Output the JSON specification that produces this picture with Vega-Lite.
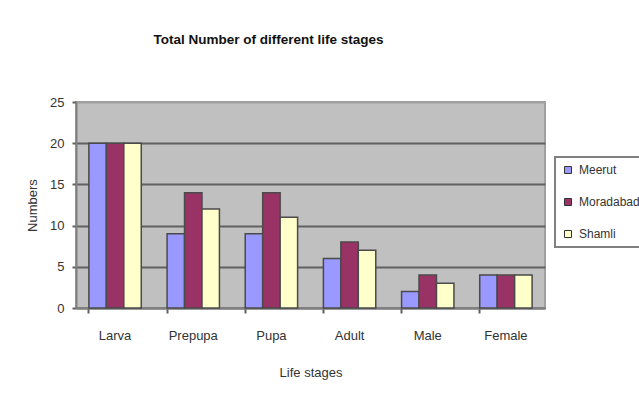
{
  "$schema": "https://vega.github.io/schema/vega-lite/v6.json",
  "width": 469,
  "height": 206,
  "autosize": {"type": "none"},
  "padding": {"left": 76, "top": 102, "right": 94, "bottom": 97},
  "background": "white",
  "title": {
    "text": "Total Number of different life stages",
    "font": "Liberation Sans",
    "fontSize": 13.5,
    "fontWeight": "bold",
    "color": "#111111",
    "offset": 50,
    "dx": -42
  },
  "config": {
    "view": {"fill": "#C0C0C0", "stroke": "#A0A0A0", "strokeWidth": 2},
    "axis": {
      "labelFont": "Liberation Sans",
      "titleFont": "Liberation Sans",
      "labelFontSize": 13,
      "titleFontSize": 13,
      "titleFontWeight": "normal",
      "labelColor": "#333333",
      "titleColor": "#333333",
      "domainColor": "#808080",
      "domainWidth": 2,
      "tickColor": "#606060",
      "tickWidth": 2
    },
    "legend": {"strokeColor": "#808080", "strokeWidth": 2, "fillColor": "white"}
  },
  "data": {
    "values": [
      {"stage": "Larva", "site": "Meerut", "count": 20},
      {"stage": "Larva", "site": "Moradabad", "count": 20},
      {"stage": "Larva", "site": "Shamli", "count": 20},
      {"stage": "Prepupa", "site": "Meerut", "count": 9},
      {"stage": "Prepupa", "site": "Moradabad", "count": 14},
      {"stage": "Prepupa", "site": "Shamli", "count": 12},
      {"stage": "Pupa", "site": "Meerut", "count": 9},
      {"stage": "Pupa", "site": "Moradabad", "count": 14},
      {"stage": "Pupa", "site": "Shamli", "count": 11},
      {"stage": "Adult", "site": "Meerut", "count": 6},
      {"stage": "Adult", "site": "Moradabad", "count": 8},
      {"stage": "Adult", "site": "Shamli", "count": 7},
      {"stage": "Male", "site": "Meerut", "count": 2},
      {"stage": "Male", "site": "Moradabad", "count": 4},
      {"stage": "Male", "site": "Shamli", "count": 3},
      {"stage": "Female", "site": "Meerut", "count": 4},
      {"stage": "Female", "site": "Moradabad", "count": 4},
      {"stage": "Female", "site": "Shamli", "count": 4}
    ]
  },
  "mark": {"type": "bar", "stroke": "#4A4A4A", "strokeWidth": 1.5},
  "encoding": {
    "x": {
      "field": "stage",
      "type": "nominal",
      "sort": ["Larva", "Prepupa", "Pupa", "Adult", "Male", "Female"],
      "scale": {"paddingInner": 0.33, "paddingOuter": 0.165},
      "axis": {
        "title": "Life stages",
        "labelAngle": 0,
        "bandPosition": 0,
        "tickSize": 5,
        "labelPadding": 16,
        "titlePadding": 24
      }
    },
    "xOffset": {
      "field": "site",
      "type": "nominal",
      "sort": ["Meerut", "Moradabad", "Shamli"],
      "scale": {"paddingInner": 0, "paddingOuter": 0}
    },
    "y": {
      "field": "count",
      "type": "quantitative",
      "scale": {"domain": [0, 25], "nice": false},
      "axis": {
        "title": "Numbers",
        "values": [0, 5, 10, 15, 20, 25],
        "tickSize": 4,
        "labelPadding": 8,
        "titlePadding": 10,
        "grid": true,
        "gridColor": {"condition": {"test": "datum.value == 25", "value": "#A0A0A0"}, "value": "#606060"},
        "gridWidth": 2
      }
    },
    "color": {
      "field": "site",
      "type": "nominal",
      "sort": ["Meerut", "Moradabad", "Shamli"],
      "scale": {"domain": ["Meerut", "Moradabad", "Shamli"], "range": ["#9999FF", "#993366", "#FFFFCC"]},
      "legend": {
        "title": null,
        "orient": "none",
        "legendX": 479,
        "legendY": 55,
        "symbolType": "square",
        "symbolSize": 49,
        "symbolStrokeColor": "#333333",
        "symbolStrokeWidth": 1,
        "labelFont": "Liberation Sans",
        "labelFontSize": 12,
        "labelColor": "#333333",
        "labelOffset": 5,
        "rowPadding": 20,
        "padding": 7
      }
    }
  }
}
